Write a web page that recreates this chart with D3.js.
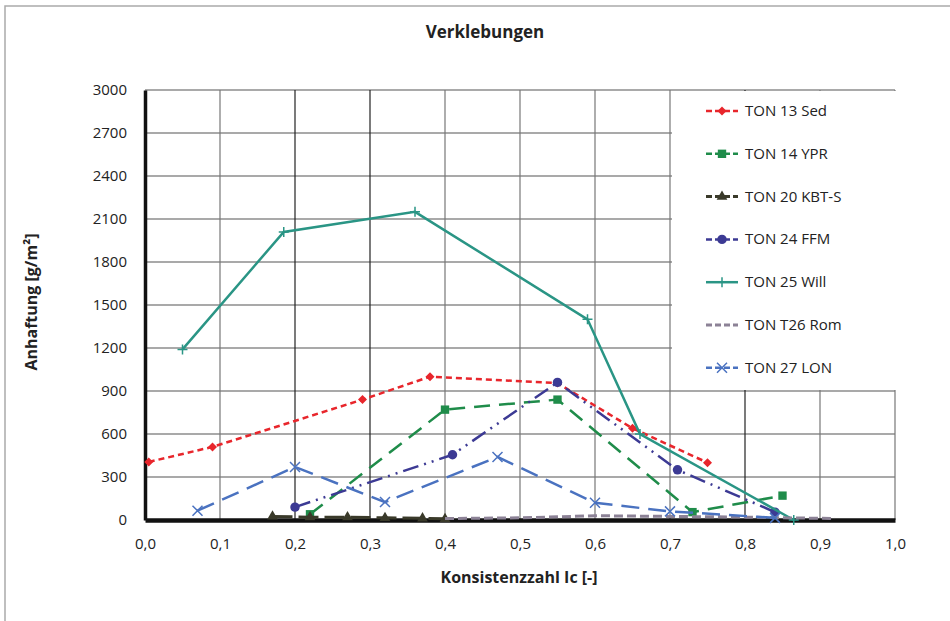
<!DOCTYPE html>
<html lang="de">
<head>
<meta charset="utf-8"/>
<script src="https://d3js.org/d3.v7.min.js"></script>
<style>
  body { margin: 0; background: #fff; }
  text { font-family: "Open Sans", "Liberation Sans", sans-serif; fill: #222; }
</style>
</head>
<body>
<script>
    // Chart data
    var xTicks = [0, 0.1, 0.2, 0.3, 0.4, 0.5, 0.6, 0.7, 0.8, 0.9, 1.0];
    var yTicks = [0, 300, 600, 900, 1200, 1500, 1800, 2100, 2400, 2700, 3000];

    var ton13 = [[0.005, 405], [0.09, 510], [0.29, 840], [0.38, 1000], [0.55, 955], [0.65, 640], [0.75, 400]];
    var ton14 = [[0.22, 40], [0.40, 770], [0.55, 840], [0.73, 55], [0.85, 170]];
    var ton20 = [[0.17, 25], [0.22, 20], [0.27, 20], [0.32, 15], [0.37, 12], [0.40, 8]];
    var ton24 = [[0.20, 90], [0.41, 455], [0.55, 960], [0.71, 350], [0.84, 55]];
    var ton25 = [[0.05, 1190], [0.185, 2010], [0.36, 2150], [0.59, 1400], [0.66, 600], [0.865, 0]];
    var ton26 = [[0.40, 10], [0.50, 15], [0.60, 30], [0.70, 25], [0.80, 20], [0.92, 10]];
    var ton27 = [[0.07, 65], [0.20, 370], [0.32, 125], [0.47, 440], [0.60, 120], [0.70, 60], [0.84, 15]];

    var series = [
        {name: "TON 13 Sed", data: ton13, color: "#e8262c", dash: "6,4", marker: "diamond", width: 2.5},
        {name: "TON 14 YPR", data: ton14, color: "#1f8c4a", dash: "16,9", marker: "square", width: 2.5},
        {name: "TON 20 KBT-S", data: ton20, color: "#3a3a2a", dash: "20,6", marker: "triangle", width: 3},
        {name: "TON 24 FFM", data: ton24, color: "#3c3a94", dash: "16,6,2,6,2,6", marker: "circle", width: 2.5},
        {name: "TON 25 Will", data: ton25, color: "#2a9585", dash: null, marker: "plus", width: 2.5},
        {name: "TON T26 Rom", data: ton26, color: "#8c8296", dash: "9,4", marker: "none", width: 3},
        {name: "TON 27 LON", data: ton27, color: "#4a72c0", dash: "18,9", marker: "cross", width: 2.5}
    ];

    var W = 950, H = 621;
    var plot = {left: 145, right: 895, top: 90, bottom: 520};

    var svg = d3.select("body").append("svg")
        .attr("width", W)
        .attr("height", H);

    // outer frame (only left and top edges show)
    svg.append("rect")
        .attr("x", 5).attr("y", 6)
        .attr("width", 1000).attr("height", 700)
        .attr("fill", "none")
        .attr("stroke", "#aaa")
        .attr("stroke-width", 1.5);

    var x = d3.scaleLinear().domain([0, 1]).range([plot.left, plot.right]);
    var y = d3.scaleLinear().domain([0, 3000]).range([plot.bottom, plot.top]);

    // grid
    svg.append("g")
        .selectAll("line.h")
        .data(yTicks.slice(1))
        .enter().append("line")
        .attr("x1", plot.left).attr("x2", plot.right)
        .attr("y1", function(d) { return y(d); })
        .attr("y2", function(d) { return y(d); })
        .attr("stroke", "#555").attr("stroke-width", 1.2);

    svg.append("g")
        .selectAll("line.v")
        .data(xTicks.slice(1))
        .enter().append("line")
        .attr("x1", function(d) { return x(d); })
        .attr("x2", function(d) { return x(d); })
        .attr("y1", plot.top).attr("y2", plot.bottom)
        .attr("stroke", function(d, i) { return (i === 1 || i === 2 || i === 7) ? "#222" : "#777"; })
        .attr("stroke-width", 1.2);

    // axes
    var yAxis = svg.append("g")
        .attr("transform", "translate(" + plot.left + ",0)")
        .call(d3.axisLeft(y).tickValues(yTicks).tickSize(0).tickPadding(18).tickFormat(d3.format("d")));
    yAxis.select(".domain").attr("stroke", "#111").attr("stroke-width", 3.5);
    yAxis.selectAll("text").style("font-size", "15px");

    var xAxis = svg.append("g")
        .attr("transform", "translate(0," + plot.bottom + ")")
        .call(d3.axisBottom(x).tickValues(xTicks).tickSize(0).tickPadding(18)
            .tickFormat(function(d) { return d3.format(".1f")(d).replace(".", ","); }));
    xAxis.select(".domain").attr("stroke", "#111").attr("stroke-width", 4.5);
    xAxis.selectAll("text").style("font-size", "15px");

    // series lines
    var line = d3.line()
        .x(function(d) { return x(d[0]); })
        .y(function(d) { return y(d[1]); });

    function drawMarker(g, type, color) {
        if (type === "diamond") {
            g.append("path").attr("d", "M0,-4.5L4.5,0L0,4.5L-4.5,0Z").attr("fill", color);
        } else if (type === "square") {
            g.append("path").attr("d", d3.symbol(d3.symbolSquare, 70)()).attr("fill", color);
        } else if (type === "triangle") {
            g.append("path").attr("d", d3.symbol(d3.symbolTriangle, 50)()).attr("fill", color);
        } else if (type === "circle") {
            g.append("path").attr("d", d3.symbol(d3.symbolCircle, 70)()).attr("fill", color);
        } else if (type === "plus") {
            g.append("path").attr("d", "M-5,0H5M0,-5V5").attr("stroke", color).attr("stroke-width", 1.5);
        } else if (type === "cross") {
            g.append("path").attr("d", "M-5,-5L5,5M-5,5L5,-5").attr("stroke", color).attr("stroke-width", 1.5);
        }
    }

    series.forEach(function(s) {
        svg.append("path")
            .datum(s.data)
            .attr("d", line)
            .attr("fill", "none")
            .attr("stroke", s.color)
            .attr("stroke-width", s.width)
            .attr("stroke-dasharray", s.dash);

        s.data.forEach(function(p) {
            var g = svg.append("g")
                .attr("transform", "translate(" + x(p[0]) + "," + y(p[1]) + ")");
            drawMarker(g, s.marker, s.color);
        });
    });

    // legend
    var legend = svg.append("g");
    legend.append("rect")
        .attr("x", 672).attr("y", plot.top + 1)
        .attr("width", plot.right - 672 + 2).attr("height", 299)
        .attr("fill", "#fff");

    series.forEach(function(s, i) {
        var ly = 111 + i * 42.8;
        var g = legend.append("g").attr("transform", "translate(0," + ly + ")");
        g.append("line")
            .attr("x1", 706).attr("x2", 738)
            .attr("y1", 0).attr("y2", 0)
            .attr("stroke", s.color)
            .attr("stroke-width", s.width)
            .attr("stroke-dasharray", s.dash ? "6,3" : null);
        var m = g.append("g").attr("transform", "translate(722,0)");
        drawMarker(m, s.marker, s.color);
        g.append("text")
            .attr("x", 745).attr("y", 5)
            .style("font-size", "15px")
            .text(s.name);
    });

    // titles
    svg.append("text")
        .attr("x", 485).attr("y", 38)
        .attr("text-anchor", "middle")
        .style("font-size", "17px")
        .style("font-weight", "bold")
        .text("Verklebungen");

    svg.append("text")
        .attr("x", 519).attr("y", 583)
        .attr("text-anchor", "middle")
        .style("font-size", "16px")
        .style("font-weight", "bold")
        .text("Konsistenzzahl Ic [-]");

    svg.append("text")
        .attr("transform", "translate(37,302) rotate(-90)")
        .attr("text-anchor", "middle")
        .style("font-size", "16px")
        .style("font-weight", "bold")
        .text("Anhaftung [g/m²]");
</script>
</body>
</html>
